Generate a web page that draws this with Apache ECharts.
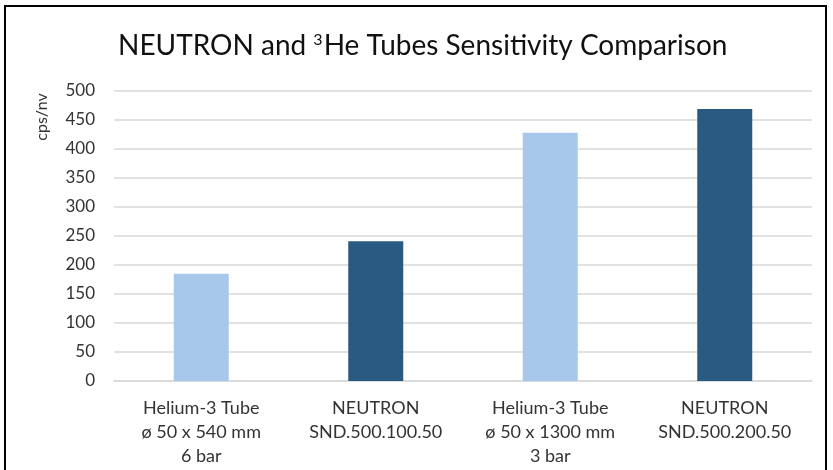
<!DOCTYPE html>
<html>
<head>
<meta charset="utf-8">
<script src="https://cdn.jsdelivr.net/npm/echarts@6/dist/echarts.min.js"></script>
<style>
  html, body { margin: 0; padding: 0; background: #fff; }
  #chart { width: 833px; height: 470px; }
</style>
</head>
<body>
<div id="chart"></div>
<script>
// 类别与数值
const categories = [
  'Helium-3 Tube\nø 50 x 540 mm\n6 bar',
  'NEUTRON\nSND.500.100.50',
  'Helium-3 Tube\nø 50 x 1300 mm\n3 bar',
  'NEUTRON\nSND.500.200.50'
]
const sensitivity = [185, 241, 428, 469]
const barColors = ['#a7c8ea', '#285a82', '#a7c8ea', '#285a82']

const chart = echarts.init(document.getElementById('chart'))

const option = {
  animation: false,
  textStyle: { fontFamily: 'Lato' },
  title: {
    text: 'NEUTRON and {sup|3}He Tubes Sensitivity Comparison',
    left: 113,
    top: 27,
    textStyle: {
      fontFamily: 'Lato',
      fontSize: 28,
      fontWeight: 'normal',
      color: '#111',
      rich: {
        sup: { fontSize: 16, verticalAlign: 'top', padding: [0, 1, 12, 0], color: '#111', fontFamily: 'Lato' }
      }
    }
  },
  grid: {
    left: 114,
    right: 21,
    top: 91,
    bottom: 89
  },
  xAxis: {
    type: 'category',
    data: categories,
    axisLine: { lineStyle: { color: '#d9d9d9', width: 1.5 } },
    axisTick: { show: false },
    axisLabel: {
      color: '#333',
      fontSize: 18,
      lineHeight: 24,
      margin: 15
    }
  },
  yAxis: {
    type: 'value',
    min: 0,
    max: 500,
    interval: 50,
    axisLine: { show: false },
    axisTick: { show: false },
    axisLabel: { color: '#333', fontSize: 17, margin: 19 },
    splitLine: { lineStyle: { color: '#d9d9d9', width: 1.5 } }
  },
  graphic: [
    {
      type: 'text',
      x: 42,
      y: 117,
      rotation: Math.PI / 2,
      style: {
        text: 'cps/nv',
        fill: '#333',
        font: '16px Lato',
        align: 'center',
        verticalAlign: 'middle'
      }
    },
    {
      type: 'rect',
      shape: { x: 5, y: 6, width: 821, height: 470 },
      style: { fill: 'none', stroke: '#000', lineWidth: 2 }
    }
  ],
  series: [
    {
      type: 'bar',
      barWidth: 55,
      data: sensitivity.map((v, i) => ({ value: v, itemStyle: { color: barColors[i] } }))
    }
  ]
}

chart.setOption(option)
</script>
</body>
</html>
